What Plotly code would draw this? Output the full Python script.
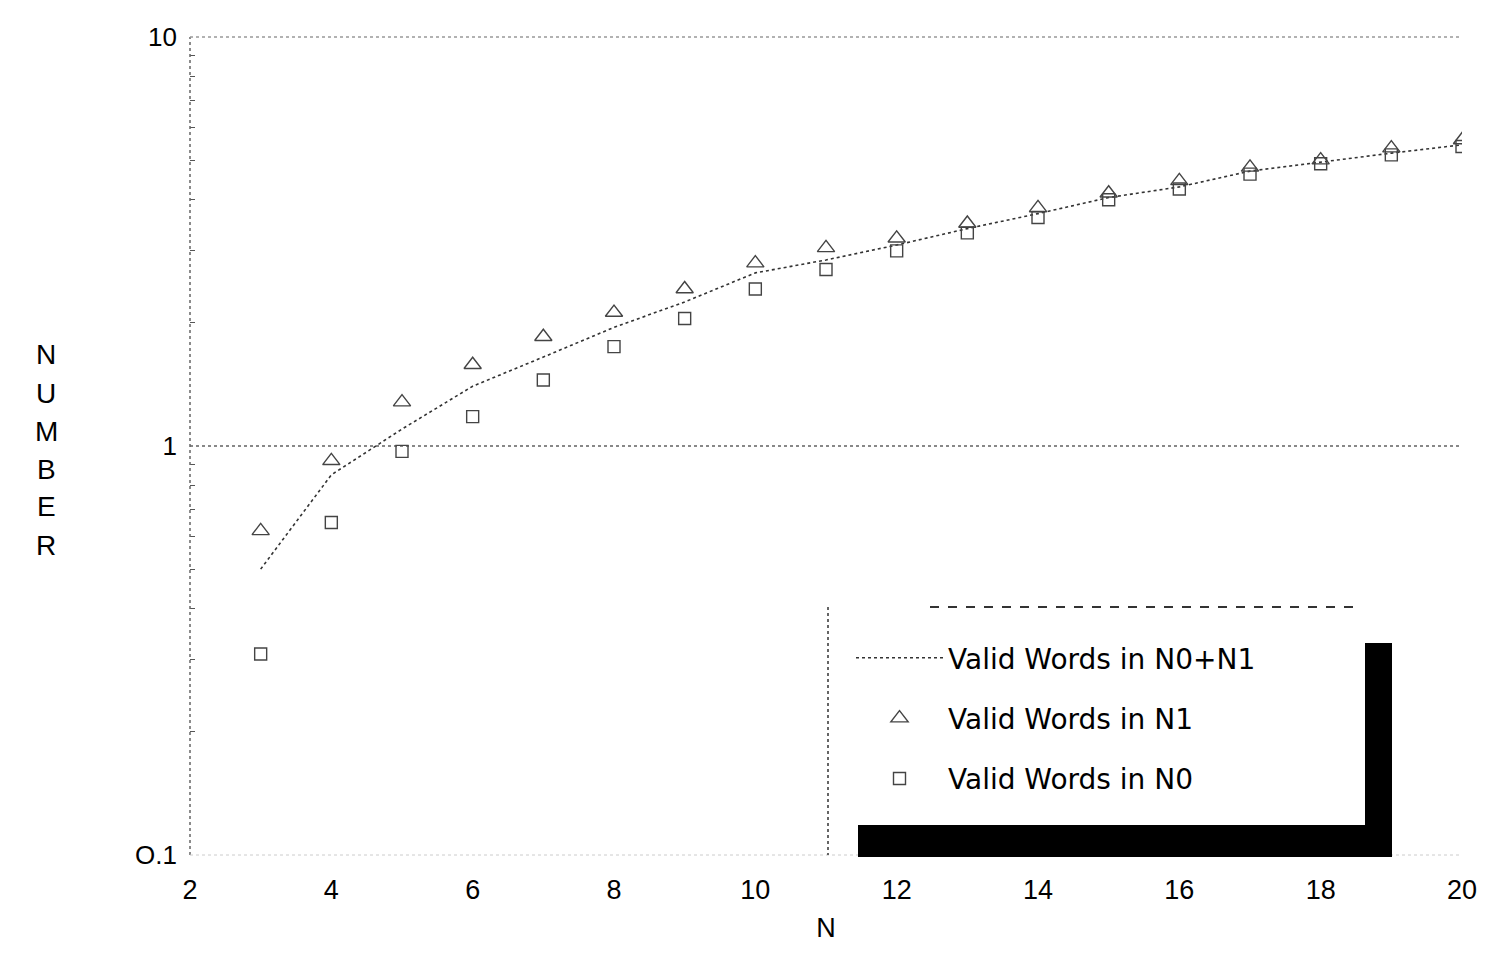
import plotly.graph_objects as go

n_values = [3, 4, 5, 6, 7, 8, 9, 10, 11, 12, 13, 14, 15, 16, 17, 18, 19, 20]
valid_n0_n1 = [0.50, 0.85, 1.10, 1.40, 1.65, 1.95, 2.25, 2.65, 2.85, 3.10, 3.40, 3.70, 4.05, 4.30, 4.70, 4.95, 5.20, 5.45]
valid_n1 = [0.62, 0.92, 1.28, 1.58, 1.85, 2.12, 2.42, 2.80, 3.05, 3.22, 3.50, 3.82, 4.15, 4.45, 4.80, 5.00, 5.35, 5.60]
valid_n0 = [0.31, 0.65, 0.97, 1.18, 1.45, 1.75, 2.05, 2.42, 2.70, 3.00, 3.32, 3.62, 4.00, 4.25, 4.62, 4.90, 5.15, 5.40]

x_ticks = [2, 4, 6, 8, 10, 12, 14, 16, 18, 20]
y_tickvals = [0.1, 1, 10]
y_ticktext = ["O.1", "1", "10"]
y_title = "NUMBER"

FONT = "Liberation Sans"
LEGEND_FONT = "DejaVu Sans"

fig = go.Figure()
fig.add_trace(go.Scatter(
    x=n_values, y=valid_n0_n1, mode="lines", name="Valid Words in N0+N1",
    line=dict(color="#333", width=1.6, dash="dot"), legendgroup="a"))
fig.add_trace(go.Scatter(
    x=n_values, y=valid_n1, mode="markers", name="Valid Words in N1",
    marker=dict(symbol="triangle-up-open", size=15, color="#444", line=dict(width=1.4, color="#444")),
    legendgroup="b"))
fig.add_trace(go.Scatter(
    x=n_values, y=valid_n0, mode="markers", name="Valid Words in N0",
    marker=dict(symbol="square-open", size=12, color="#444", line=dict(width=1.4, color="#444")),
    legendgroup="c"))

# screen-pixel -> paper coordinates (plot area: x 190..1462, y 37..855)
def px(X):
    return (X - 190) / 1272

def py(Y):
    return (855 - Y) / 818

shapes = [
    dict(type="line", xref="paper", yref="paper", x0=0, x1=0, y0=0, y1=1,
         line=dict(color="#666", width=1.5, dash="dot")),
    dict(type="line", xref="paper", yref="paper", x0=0, x1=1, y0=1, y1=1,
         line=dict(color="#999", width=1.5, dash="dot")),
    dict(type="line", xref="paper", yref="paper", x0=0, x1=1, y0=0, y1=0,
         line=dict(color="#ccc", width=1, dash="dot")),
    dict(type="line", xref="paper", yref="paper", x0=px(930), x1=px(1355), y0=py(607), y1=py(607),
         line=dict(color="#333", width=2, dash="dash")),
    dict(type="line", xref="paper", yref="paper", x0=px(828), x1=px(828), y0=py(607), y1=py(855),
         line=dict(color="#333", width=1.5, dash="dot")),
    dict(type="rect", xref="paper", yref="paper", x0=px(858), x1=px(1392), y0=py(857), y1=py(825),
         fillcolor="black", line=dict(width=0)),
    dict(type="rect", xref="paper", yref="paper", x0=px(1365), x1=px(1392), y0=py(857), y1=py(643),
         fillcolor="black", line=dict(width=0)),
]

annotations = []
for i, ch in enumerate(y_title):
    annotations.append(dict(text=ch, xref="paper", yref="paper", x=px(46), y=py(355 + 38 * i),
                            xanchor="center", yanchor="middle", showarrow=False,
                            font=dict(family=FONT, size=28)))

fig.update_layout(
    width=1494, height=964,
    margin=dict(l=182, r=40, t=29, b=117),
    paper_bgcolor="white", plot_bgcolor="white",
    font=dict(family=FONT, size=26, color="black"),
    showlegend=True,
    legend=dict(x=px(851), y=py(633), xanchor="left", yanchor="top",
                bgcolor="rgba(0,0,0,0)", borderwidth=0,
                traceorder="grouped", tracegroupgap=21,
                font=dict(family=LEGEND_FONT, size=28, color="black"), itemwidth=87),
    shapes=shapes,
    annotations=annotations,
    xaxis=dict(range=[2, 20], tickvals=x_ticks, ticks="", showgrid=False, zeroline=False,
               showline=False, tickfont=dict(size=27), ticklabelstandoff=16,
               title=dict(text="N", font=dict(size=27), standoff=14)),
    yaxis=dict(type="log", range=[-1, 1], tickvals=y_tickvals, ticktext=y_ticktext,
               showgrid=True, gridcolor="#888", griddash="dot", gridwidth=1.5,
               zeroline=False, showline=False, ticks="", tickfont=dict(size=26),
               ticklabelstandoff=12,
               minor=dict(ticks="inside", ticklen=5, tickcolor="#555", showgrid=False,
                          tickvals=[0.2, 0.3, 0.4, 0.5, 0.6, 0.7, 0.8, 0.9, 2, 3, 4, 5, 6, 7, 8, 9])),
)

fig.write_html("out.html")
